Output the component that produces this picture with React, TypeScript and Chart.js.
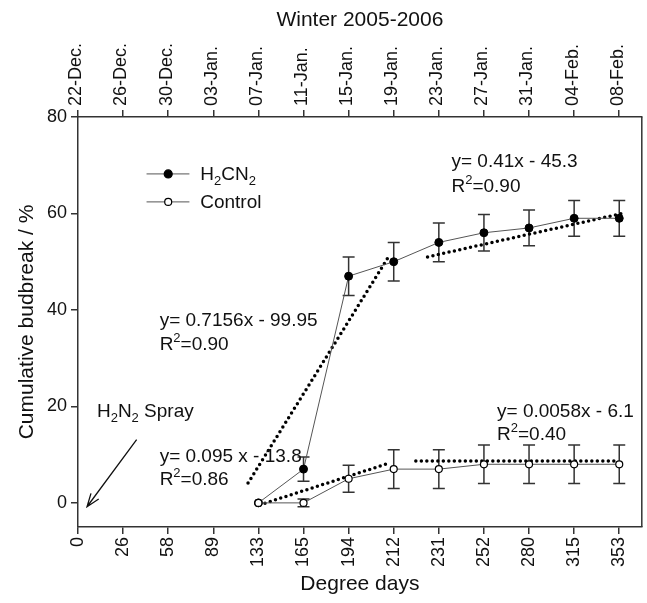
import React, { useEffect, useRef } from 'react';
import { Chart, registerables } from 'chart.js';

Chart.register(...registerables);

const FONT = '"Liberation Sans", Arial, Helvetica, sans-serif';

const degreeDays = ['0', '26', '58', '89', '133', '165', '194', '212', '231', '252', '280', '315', '353'];
const dates = ['22-Dec.', '26-Dec.', '30-Dec.', '03-Jan.', '07-Jan.', '11-Jan.', '15-Jan.', '19-Jan.', '23-Jan.', '27-Jan.', '31-Jan.', '04-Feb.', '08-Feb.'];
const yTicks = [0, 20, 40, 60, 80];

const sampleIdx = [4, 5, 6, 7, 8, 9, 10, 11, 12];
const h2cn2 = [0, 7, 47, 50, 54, 56, 57, 59, 59];
const h2cn2Err = [0, 2.5, 4, 4, 4, 3.8, 3.7, 3.7, 3.7];
const control = [0, 0, 5, 7, 7, 8, 8, 8, 8];
const controlErr = [0, 0.8, 2.8, 4, 4, 4, 4, 4, 4];

const trendH2Early = [{ x: 3.77, y: 4.1 }, { x: 6.87, y: 50.8 }];
const trendH2Late = [{ x: 7.75, y: 51 }, { x: 12.11, y: 60.1 }];
const trendCtrlEarly = [{ x: 4.03, y: -0.4 }, { x: 6.92, y: 8.3 }];
const trendCtrlLate = [{ x: 7.49, y: 8.7 }, { x: 11.9, y: 8.7 }];

type Seg = { t: string; s?: 'sub' | 'sup' };

const annotations: { segs: Seg[]; x: number; y: number }[] = [
  { segs: [{ t: 'y= 0.41x - 45.3' }], x: 8.28, y: 69.6 },
  { segs: [{ t: 'R' }, { t: '2', s: 'sup' }, { t: '=0.90' }], x: 8.28, y: 64.5 },
  { segs: [{ t: 'y= 0.7156x - 99.95' }], x: 1.81, y: 36.7 },
  { segs: [{ t: 'R' }, { t: '2', s: 'sup' }, { t: '=0.90' }], x: 1.81, y: 31.7 },
  { segs: [{ t: 'y= 0.095 x - 13.8' }], x: 1.81, y: 8.5 },
  { segs: [{ t: 'R' }, { t: '2', s: 'sup' }, { t: '=0.86' }], x: 1.81, y: 3.7 },
  { segs: [{ t: 'y= 0.0058x - 6.1' }], x: 9.29, y: 17.8 },
  { segs: [{ t: 'R' }, { t: '2', s: 'sup' }, { t: '=0.40' }], x: 9.29, y: 13.1 },
  { segs: [{ t: 'H' }, { t: '2', s: 'sub' }, { t: 'N' }, { t: '2', s: 'sub' }, { t: ' Spray' }], x: 0.42, y: 17.8 },
];

const arrowTail = { x: 1.3, y: 13.1 };
const arrowHead = { x: 0.2, y: -0.8 };

const legendItems: { segs: Seg[]; filled: boolean; y: number }[] = [
  { segs: [{ t: 'H' }, { t: '2', s: 'sub' }, { t: 'CN' }, { t: '2', s: 'sub' }], filled: true, y: 68.2 },
  { segs: [{ t: 'Control' }], filled: false, y: 62.4 },
];
const legendX = { lineStart: 1.52, lineEnd: 2.47, marker: 2.0, text: 2.71 };

function drawRich(ctx: CanvasRenderingContext2D, segs: Seg[], x: number, y: number, size: number) {
  let cx = x;
  for (const sg of segs) {
    const fs = sg.s ? Math.round(size * 0.68) : size;
    ctx.font = `${fs}px ${FONT}`;
    const dy = sg.s === 'sub' ? size * 0.28 : sg.s === 'sup' ? -size * 0.42 : 0;
    ctx.fillText(sg.t, cx, y + dy);
    cx += ctx.measureText(sg.t).width;
  }
}

const extrasPlugin = {
  id: 'extras',
  beforeDatasetsDraw(chart: any) {
    const { ctx, scales } = chart;
    const xs = scales.x;
    const ys = scales.y;
    ctx.save();
    ctx.strokeStyle = '#333';
    ctx.lineWidth = 1.5;
    const drawErr = (vals: number[], errs: number[]) => {
      vals.forEach((v, i) => {
        const e = errs[i];
        if (!e) return;
        const px = xs.getPixelForValue(sampleIdx[i]);
        const top = ys.getPixelForValue(v + e);
        const bot = ys.getPixelForValue(v - e);
        ctx.beginPath();
        ctx.moveTo(px, top);
        ctx.lineTo(px, bot);
        ctx.moveTo(px - 6, top);
        ctx.lineTo(px + 6, top);
        ctx.moveTo(px - 6, bot);
        ctx.lineTo(px + 6, bot);
        ctx.stroke();
      });
    };
    drawErr(h2cn2, h2cn2Err);
    drawErr(control, controlErr);
    ctx.restore();
  },
  afterDraw(chart: any) {
    const { ctx, scales, chartArea } = chart;
    const xs = scales.x;
    const ys = scales.y;
    ctx.save();
    ctx.strokeStyle = '#333';
    ctx.lineWidth = 1.5;
    ctx.beginPath();
    ctx.moveTo(chartArea.right, chartArea.top);
    ctx.lineTo(chartArea.right, chartArea.bottom);
    ctx.stroke();

    ctx.fillStyle = '#111';
    ctx.textBaseline = 'alphabetic';
    ctx.textAlign = 'left';
    annotations.forEach((a) => {
      drawRich(ctx, a.segs, xs.getPixelForValue(a.x), ys.getPixelForValue(a.y), 19);
    });

    const tx = xs.getPixelForValue(arrowTail.x), ty = ys.getPixelForValue(arrowTail.y);
    const hx = xs.getPixelForValue(arrowHead.x), hy = ys.getPixelForValue(arrowHead.y);
    ctx.strokeStyle = '#111';
    ctx.lineWidth = 1.3;
    ctx.beginPath();
    ctx.moveTo(tx, ty);
    ctx.lineTo(hx, hy);
    const ang = Math.atan2(ty - hy, tx - hx);
    const L = 14;
    ctx.moveTo(hx + L * Math.cos(ang + 0.35), hy + L * Math.sin(ang + 0.35));
    ctx.lineTo(hx, hy);
    ctx.lineTo(hx + L * Math.cos(ang - 0.35), hy + L * Math.sin(ang - 0.35));
    ctx.stroke();

    legendItems.forEach((it) => {
      const py = ys.getPixelForValue(it.y);
      ctx.strokeStyle = '#555';
      ctx.lineWidth = 1;
      ctx.beginPath();
      ctx.moveTo(xs.getPixelForValue(legendX.lineStart), py);
      ctx.lineTo(xs.getPixelForValue(legendX.lineEnd), py);
      ctx.stroke();
      ctx.beginPath();
      ctx.arc(xs.getPixelForValue(legendX.marker), py, it.filled ? 4 : 3.5, 0, Math.PI * 2);
      ctx.fillStyle = it.filled ? '#000' : '#fff';
      ctx.fill();
      ctx.strokeStyle = '#000';
      ctx.lineWidth = 1.2;
      ctx.stroke();
      ctx.fillStyle = '#111';
      drawRich(ctx, it.segs, xs.getPixelForValue(legendX.text), py + 6, 19);
    });
    ctx.restore();
  },
};

const tickFont = { size: 18, family: FONT };
const titleFont = { size: 21, family: FONT };
const gridOpts = { drawOnChartArea: false, drawTicks: true, tickLength: 7, color: '#333', lineWidth: 1.5 };
const borderOpts = { display: true, color: '#333', width: 1.5 };

export default function App() {
  const ref = useRef<HTMLCanvasElement>(null);
  useEffect(() => {
    if (!ref.current) return;
    const dotted = {
      borderColor: '#000',
      borderWidth: 3.5,
      borderDash: [0, 5.5],
      borderCapStyle: 'round' as const,
      pointRadius: 0,
      fill: false,
      order: 2,
    };
    const chart = new Chart(ref.current, {
      type: 'line',
      data: {
        datasets: [
          {
            label: 'Control',
            data: sampleIdx.map((x, i) => ({ x, y: control[i] })),
            borderColor: '#555',
            borderWidth: 1,
            pointRadius: 3.5,
            pointBackgroundColor: '#fff',
            pointBorderColor: '#000',
            pointBorderWidth: 1.2,
            order: 0,
          },
          {
            label: 'H2CN2',
            data: sampleIdx.map((x, i) => ({ x, y: h2cn2[i] })),
            borderColor: '#555',
            borderWidth: 1,
            pointRadius: 4,
            pointBackgroundColor: '#000',
            pointBorderColor: '#000',
            pointBorderWidth: 1,
            order: 1,
          },
          { label: 't1', data: trendH2Early, ...dotted },
          { label: 't2', data: trendH2Late, ...dotted },
          { label: 't3', data: trendCtrlEarly, ...dotted },
          { label: 't4', data: trendCtrlLate, ...dotted },
        ] as any,
      },
      options: {
        animation: false,
        responsive: false,
        maintainAspectRatio: false,
        devicePixelRatio: 1,
        layout: { padding: { left: 0, right: 1, top: 0, bottom: 0 } },
        plugins: { legend: { display: false }, tooltip: { enabled: false } },
        scales: {
          x: {
            type: 'linear',
            position: 'bottom',
            min: 0,
            max: 12.5,
            afterBuildTicks: (s: any) => {
              s.ticks = degreeDays.map((_, i) => ({ value: i }));
            },
            afterFit: (s: any) => {
              s.height = 76;
            },
            ticks: {
              autoSkip: false,
              minRotation: 90,
              maxRotation: 90,
              padding: 3,
              color: '#111',
              font: tickFont,
              callback: (v: any) => degreeDays[Math.round(v)] ?? '',
            },
            grid: gridOpts,
            border: borderOpts,
            title: { display: true, text: 'Degree days', color: '#111', font: titleFont, padding: { top: 0, bottom: 6 } },
          },
          x2: {
            type: 'linear',
            position: 'top',
            min: 0,
            max: 12.5,
            afterBuildTicks: (s: any) => {
              s.ticks = dates.map((_, i) => ({ value: i }));
            },
            afterFit: (s: any) => {
              s.height = 117;
            },
            ticks: {
              autoSkip: false,
              minRotation: 90,
              maxRotation: 90,
              padding: 4,
              labelOffset: 20,
              color: '#111',
              font: tickFont,
              callback: (v: any) => dates[Math.round(v)] ?? '',
            },
            grid: gridOpts,
            border: borderOpts,
            title: { display: true, text: 'Winter 2005-2006', color: '#111', font: titleFont, padding: { top: 8, bottom: 0 } },
          },
          y: {
            type: 'linear',
            min: -5,
            max: 80,
            afterBuildTicks: (s: any) => {
              s.ticks = yTicks.map((v) => ({ value: v }));
            },
            afterFit: (s: any) => {
              s.width = 78;
            },
            ticks: { padding: 4, color: '#111', font: tickFont },
            grid: gridOpts,
            border: borderOpts,
            title: { display: true, text: 'Cumulative budbreak / %', color: '#111', font: titleFont, padding: { top: 15, bottom: 0 } },
          },
        },
      } as any,
      plugins: [extrasPlugin],
    });
    return () => chart.destroy();
  }, []);
  return (
    <div style={{ position: 'absolute', left: 0, top: 0, width: 647, height: 603, background: '#fff' }}>
      <canvas ref={ref} width={647} height={603} style={{ width: 647, height: 603, display: 'block' }} />
    </div>
  );
}
